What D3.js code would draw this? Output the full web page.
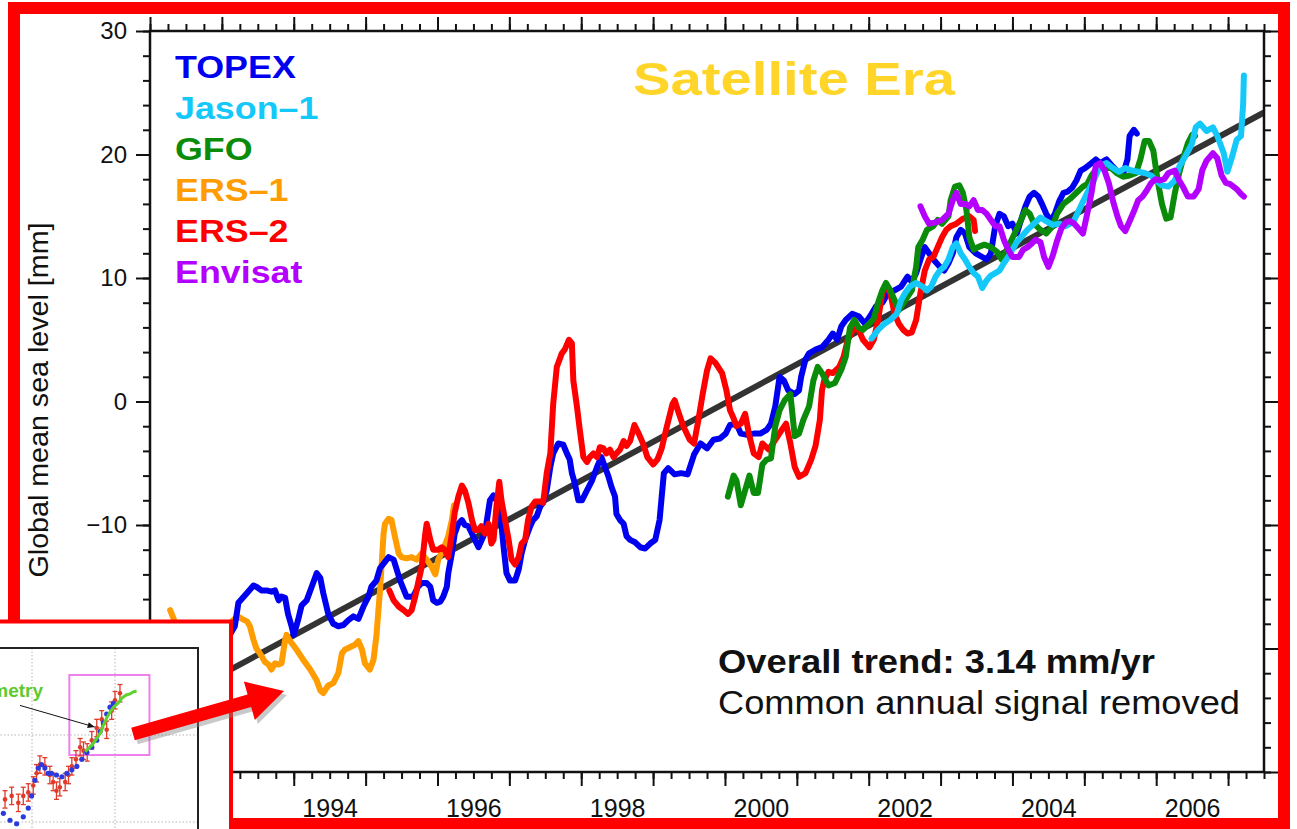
<!DOCTYPE html>
<html>
<head>
<meta charset="utf-8">
<script src="https://cdn.jsdelivr.net/npm/d3@7"></script>
<style>
	body { margin: 0; background: #fff; }
	svg { display: block; font-family: "Liberation Sans", Arial, Helvetica, sans-serif; }
	.tick line { stroke: #111; stroke-width: 2; }
	.tick text { fill: #111; }
</style>
</head>
<body>
<div id="chart-area"></div>
<script>

// ---- data: [decimal year, mm] ----
let topexData = [
	[1992.95,-19.5],[1993.1,-19.0],[1993.18,-18.2],[1993.23,-16.3],[1993.35,-15.5],[1993.44,-14.9],[1993.48,-15.0],
	[1993.55,-15.3],[1993.62,-15.3],[1993.69,-15.4],[1993.74,-15.3],[1993.79,-16.1],[1993.83,-15.8],[1993.88,-15.9],
	[1993.92,-17.2],[1993.97,-18.2],[1994.00,-18.9],[1994.06,-17.7],[1994.11,-16.5],[1994.18,-16.1],[1994.25,-15.0],
	[1994.32,-13.9],[1994.37,-14.3],[1994.41,-15.5],[1994.48,-17.2],[1994.55,-18.0],[1994.62,-18.2],[1994.69,-18.1],
	[1994.76,-17.7],[1994.83,-17.4],[1994.90,-17.6],[1994.97,-16.6],[1995.04,-15.8],[1995.08,-15.0],[1995.15,-14.5],
	[1995.20,-13.5],[1995.32,-12.6],[1995.39,-12.8],[1995.48,-14.5],[1995.57,-15.8],[1995.66,-15.8],[1995.73,-15.0],
	[1995.78,-14.7],[1995.85,-14.7],[1995.90,-15.0],[1995.94,-16.1],[1995.99,-16.3],[1996.04,-16.2],[1996.08,-15.8],
	[1996.13,-15.0],[1996.15,-13.9],[1996.20,-12.3],[1996.24,-10.7],[1996.29,-9.9],[1996.34,-9.6],[1996.38,-10.0],
	[1996.43,-10.1],[1996.48,-10.7],[1996.52,-11.2],[1996.57,-11.8],[1996.64,-10.9],[1996.68,-9.9],[1996.73,-8.0],
	[1996.78,-7.6],[1996.82,-8.0],[1996.87,-8.8],[1996.92,-11.8],[1996.96,-13.9],[1997.01,-14.5],[1997.08,-14.5],
	[1997.13,-13.6],[1997.17,-12.3],[1997.22,-11.2],[1997.29,-10.1],[1997.33,-9.6],[1997.38,-9.3],[1997.43,-8.5],
	[1997.47,-8.2],[1997.52,-7.2],[1997.57,-5.3],[1997.61,-4.2],[1997.68,-3.4],[1997.75,-3.5],[1997.80,-4.2],
	[1997.84,-4.7],[1997.87,-5.8],[1997.91,-6.6],[1997.96,-8.0],[1998.01,-8.0],[1998.08,-7.2],[1998.15,-6.4],
	[1998.22,-5.3],[1998.28,-4.5],[1998.33,-5.3],[1998.38,-6.1],[1998.42,-6.9],[1998.47,-7.7],[1998.49,-9.1],
	[1998.54,-9.6],[1998.59,-9.9],[1998.63,-10.9],[1998.68,-11.2],[1998.75,-11.4],[1998.82,-11.8],[1998.89,-11.9],
	[1998.96,-11.5],[1999.03,-11.2],[1999.09,-9.6],[1999.15,-5.8],[1999.21,-5.4],[1999.30,-5.9],[1999.39,-5.8],
	[1999.48,-5.9],[1999.57,-4.3],[1999.66,-3.4],[1999.75,-3.8],[1999.84,-3.1],[1999.93,-3.0],[2000.01,-2.6],
	[2000.07,-1.9],[2000.16,-1.8],[2000.22,-2.6],[2000.31,-2.7],[2000.40,-2.6],[2000.49,-2.6],[2000.58,-2.3],
	[2000.64,-1.8],[2000.70,-0.4],[2000.76,2.0],[2000.82,1.7],[2000.88,0.9],[2000.97,0.6],[2001.03,0.9],
	[2001.06,2.0],[2001.12,3.4],[2001.17,3.9],[2001.26,4.2],[2001.35,4.4],[2001.44,5.0],[2001.50,5.5],
	[2001.56,5.0],[2001.62,6.1],[2001.68,6.6],[2001.77,7.1],[2001.86,6.9],[2001.95,6.3],[2002.04,7.1],
	[2002.10,7.7],[2002.19,8.0],[2002.27,8.8],[2002.36,9.0],[2002.45,9.3],[2002.54,10.1],[2002.60,9.7],
	[2002.66,10.4],[2002.72,11.5],[2002.78,12.5],[2002.84,12.0],[2002.90,11.5],[2002.99,10.9],[2003.05,10.6],
	[2003.11,11.2],[2003.17,12.0],[2003.22,13.3],[2003.28,13.9],[2003.34,13.6],[2003.40,12.5],[2003.49,12.0],
	[2003.58,11.7],[2003.64,11.5],[2003.70,12.0],[2003.76,14.2],[2003.82,15.2],[2003.88,15.0],[2003.94,14.2],
	[2004.00,14.4],[2004.06,13.6],[2004.12,14.7],[2004.18,15.8],[2004.24,16.6],[2004.30,16.9],[2004.36,16.6],
	[2004.41,16.0],[2004.47,15.2],[2004.53,14.6],[2004.59,15.2],[2004.65,16.2],[2004.71,16.9],[2004.77,17.0],
	[2004.83,17.3],[2004.89,17.9],[2004.95,18.7],[2005.01,18.9],[2005.10,19.3],[2005.16,19.6],[2005.22,19.3],
	[2005.31,19.6],[2005.40,19.0],[2005.48,18.5],[2005.54,18.4],[2005.60,19.6],[2005.63,21.5],[2005.69,22.0],
	[2005.73,21.7]
];

let jason1Data = [
	[2002.04,5.1],[2002.13,5.8],[2002.22,6.3],[2002.30,6.6],[2002.39,7.1],[2002.45,8.2],[2002.51,8.8],
	[2002.57,9.3],[2002.66,9.6],[2002.75,9.3],[2002.81,9.0],[2002.87,9.3],[2002.93,10.1],[2002.99,10.6],
	[2003.05,10.9],[2003.11,11.5],[2003.17,12.5],[2003.22,12.8],[2003.28,12.0],[2003.34,11.5],[2003.40,10.9],
	[2003.46,10.4],[2003.52,10.1],[2003.58,9.2],[2003.64,9.8],[2003.70,10.2],[2003.76,10.4],[2003.82,10.6],
	[2003.88,11.2],[2003.94,11.7],[2004.00,12.3],[2004.06,12.9],[2004.12,13.3],[2004.21,13.9],[2004.30,14.4],
	[2004.39,14.9],[2004.47,14.6],[2004.56,14.3],[2004.65,14.4],[2004.74,14.2],[2004.80,14.4],[2004.86,14.7],
	[2004.95,15.8],[2005.04,16.9],[2005.13,17.9],[2005.22,19.1],[2005.31,19.3],[2005.40,18.9],[2005.48,18.6],
	[2005.57,18.9],[2005.66,18.7],[2005.75,18.6],[2005.84,18.5],[2005.93,18.3],[2006.02,17.8],[2006.08,17.5],
	[2006.17,17.4],[2006.26,17.9],[2006.32,19.0],[2006.41,19.9],[2006.50,20.9],[2006.55,22.2],[2006.61,22.5],
	[2006.70,21.9],[2006.79,22.2],[2006.85,21.5],[2006.94,20.1],[2006.99,18.6],[2007.06,19.9],[2007.12,21.2],
	[2007.18,21.5],[2007.21,24.1],[2007.22,26.4]
];

let gfoData = [
	[2000.04,-7.7],[2000.12,-6.0],[2000.16,-6.4],[2000.22,-8.4],[2000.28,-7.2],[2000.34,-6.0],[2000.40,-7.4],
	[2000.46,-7.4],[2000.52,-5.1],[2000.58,-4.7],[2000.64,-4.6],[2000.70,-2.0],[2000.76,-0.7],[2000.83,0.1],
	[2000.91,0.6],[2000.97,-2.8],[2001.03,-2.6],[2001.09,-1.5],[2001.17,-0.4],[2001.23,1.7],[2001.29,2.8],
	[2001.35,2.3],[2001.44,1.3],[2001.53,1.5],[2001.62,2.6],[2001.68,3.6],[2001.74,6.0],[2001.80,6.6],
	[2001.86,6.0],[2001.92,5.8],[2001.99,6.2],[2002.07,6.7],[2002.13,8.0],[2002.19,9.0],[2002.24,9.6],
	[2002.30,9.0],[2002.36,8.2],[2002.42,7.4],[2002.51,8.2],[2002.60,9.0],[2002.66,10.9],[2002.69,12.5],
	[2002.75,13.1],[2002.81,13.9],[2002.90,14.2],[2002.96,14.7],[2003.02,14.4],[2003.11,15.0],[2003.14,16.3],
	[2003.20,17.4],[2003.26,17.5],[2003.31,16.9],[2003.36,15.5],[2003.40,13.3],[2003.46,12.3],[2003.52,12.5],
	[2003.61,12.7],[2003.70,12.5],[2003.79,12.1],[2003.85,11.5],[2003.94,12.5],[2004.03,13.6],[2004.12,14.7],
	[2004.18,15.5],[2004.24,15.2],[2004.30,14.4],[2004.39,13.9],[2004.47,13.6],[2004.56,14.2],[2004.62,15.2],
	[2004.71,16.0],[2004.80,16.4],[2004.89,16.9],[2004.98,17.4],[2005.04,17.6],[2005.10,18.3],[2005.19,19.0],
	[2005.28,18.9],[2005.37,18.9],[2005.45,18.5],[2005.54,18.2],[2005.63,18.3],[2005.72,18.5],[2005.78,19.6],
	[2005.84,21.1],[2005.90,21.1],[2005.96,20.3],[2006.02,17.9],[2006.08,16.0],[2006.14,14.8],[2006.20,14.9],
	[2006.26,16.9],[2006.32,18.5],[2006.38,19.8],[2006.44,20.9],[2006.50,21.6],[2006.54,21.5]
];

let ers1Data = [
	[1992.28,-16.9],[1992.33,-17.6],[1992.40,-18.9],[1992.6,-20.2],[1992.9,-19.6],[1993.05,-18.6],[1993.12,-17.9],
	[1993.16,-17.7],[1993.22,-17.4],[1993.28,-17.6],[1993.35,-17.8],[1993.39,-18.2],[1993.44,-19.3],[1993.48,-20.0],
	[1993.53,-20.4],[1993.60,-21.1],[1993.65,-21.3],[1993.69,-21.7],[1993.74,-21.2],[1993.79,-21.3],[1993.83,-21.2],
	[1993.88,-19.3],[1993.90,-18.9],[1993.95,-19.4],[1994.04,-20.1],[1994.13,-20.9],[1994.23,-21.7],[1994.32,-22.6],
	[1994.37,-23.4],[1994.41,-23.6],[1994.48,-23.0],[1994.55,-22.8],[1994.62,-22.0],[1994.67,-20.4],[1994.71,-20.1],
	[1994.78,-19.9],[1994.85,-19.7],[1994.90,-19.4],[1994.95,-20.1],[1994.99,-21.2],[1995.06,-21.7],[1995.11,-20.9],
	[1995.15,-19.0],[1995.20,-15.3],[1995.25,-10.7],[1995.27,-9.9],[1995.32,-9.5],[1995.36,-9.6],[1995.41,-11.0],
	[1995.46,-12.3],[1995.50,-12.6],[1995.57,-12.7],[1995.64,-12.6],[1995.71,-12.8],[1995.78,-12.3],[1995.85,-12.8],
	[1995.92,-13.4],[1995.97,-14.0],[1996.01,-12.8],[1996.08,-12.0],[1996.15,-10.9],[1996.20,-9.6],[1996.23,-8.4]
];

let ers2Data = [
	[1995.33,-15.3],[1995.39,-16.1],[1995.46,-16.6],[1995.53,-16.9],[1995.59,-17.2],[1995.64,-16.9],[1995.69,-15.8],
	[1995.73,-14.7],[1995.78,-13.4],[1995.83,-10.7],[1995.85,-9.9],[1995.90,-11.2],[1995.94,-12.0],[1996.01,-12.0],
	[1996.06,-11.8],[1996.10,-12.0],[1996.15,-12.6],[1996.20,-10.7],[1996.24,-9.0],[1996.29,-7.7],[1996.34,-6.8],
	[1996.38,-7.2],[1996.43,-8.2],[1996.48,-9.6],[1996.52,-10.4],[1996.57,-10.4],[1996.61,-10.1],[1996.66,-10.7],
	[1996.71,-9.9],[1996.75,-11.5],[1996.78,-11.2],[1996.82,-8.5],[1996.86,-6.5],[1996.89,-8.0],[1996.94,-9.6],
	[1996.99,-11.2],[1997.03,-12.8],[1997.08,-13.2],[1997.13,-12.6],[1997.17,-11.5],[1997.22,-11.2],[1997.26,-9.6],
	[1997.31,-8.5],[1997.36,-8.1],[1997.43,-8.1],[1997.47,-8.2],[1997.52,-5.8],[1997.57,-4.2],[1997.61,-0.2],
	[1997.66,2.8],[1997.73,3.9],[1997.77,4.2],[1997.83,5.0],[1997.87,4.7],[1997.89,1.7],[1997.94,-0.4],
	[1997.98,-2.3],[1998.03,-4.5],[1998.08,-4.9],[1998.12,-4.5],[1998.17,-4.2],[1998.22,-4.5],[1998.26,-3.7],
	[1998.31,-3.8],[1998.35,-4.2],[1998.40,-3.9],[1998.45,-4.5],[1998.49,-4.2],[1998.54,-3.9],[1998.59,-3.2],
	[1998.63,-3.6],[1998.68,-3.2],[1998.74,-1.9],[1998.80,-2.6],[1998.86,-3.4],[1998.92,-4.5],[1999.00,-5.1],
	[1999.06,-4.7],[1999.12,-3.8],[1999.18,-2.3],[1999.27,-0.2],[1999.30,0.1],[1999.36,-1.0],[1999.42,-2.0],
	[1999.51,-3.1],[1999.57,-3.4],[1999.63,-1.5],[1999.69,0.6],[1999.75,2.5],[1999.80,3.5],[1999.87,3.1],
	[1999.96,2.3],[2000.02,0.9],[2000.07,-0.7],[2000.13,-1.5],[2000.16,-2.0],[2000.22,-1.8],[2000.28,-1.0],
	[2000.34,-2.8],[2000.40,-4.2],[2000.47,-4.5],[2000.52,-3.4],[2000.61,-3.9],[2000.70,-3.1],[2000.79,-2.3],
	[2000.85,-1.8],[2000.91,-3.4],[2000.97,-5.3],[2001.03,-6.1],[2001.12,-5.8],[2001.20,-4.7],[2001.26,-3.6],
	[2001.32,-1.5],[2001.35,0.9],[2001.38,1.7],[2001.44,2.4],[2001.50,2.3],[2001.59,2.8],[2001.65,3.6],
	[2001.71,5.0],[2001.80,6.0],[2001.86,5.8],[2001.92,5.0],[2002.01,4.4],[2002.07,5.0],[2002.13,6.6],
	[2002.19,8.8],[2002.24,9.3],[2002.30,8.8],[2002.36,7.1],[2002.42,6.3],[2002.48,5.8],[2002.54,5.5],
	[2002.60,5.6],[2002.66,6.6],[2002.72,8.8],[2002.78,10.6],[2002.84,11.5],[2002.90,11.7],[2002.96,12.5],
	[2003.02,13.3],[2003.08,13.9],[2003.14,14.2],[2003.22,14.4],[2003.31,14.8],[2003.40,15.0],[2003.46,14.7],
	[2003.48,13.8]
];

let envisatData = [
	[2002.72,15.8],[2002.78,15.0],[2002.84,14.4],[2002.93,14.5],[2003.02,14.7],[2003.11,15.2],[2003.17,16.3],
	[2003.22,16.9],[2003.28,16.0],[2003.34,16.0],[2003.40,15.8],[2003.46,16.3],[2003.52,15.5],[2003.58,15.5],
	[2003.64,15.2],[2003.70,14.7],[2003.76,14.2],[2003.82,14.2],[2003.88,13.1],[2003.94,12.3],[2004.00,11.7],
	[2004.09,11.7],[2004.15,12.3],[2004.21,12.5],[2004.27,12.8],[2004.32,13.1],[2004.39,12.9],[2004.44,11.7],
	[2004.50,10.9],[2004.56,11.8],[2004.62,13.0],[2004.68,14.0],[2004.74,14.5],[2004.80,14.6],[2004.86,14.4],
	[2004.92,14.0],[2004.98,13.6],[2005.04,15.2],[2005.10,16.9],[2005.16,19.1],[2005.22,19.3],[2005.28,18.7],
	[2005.34,17.7],[2005.40,16.2],[2005.46,15.0],[2005.51,14.2],[2005.57,13.8],[2005.63,14.6],[2005.69,15.4],
	[2005.75,16.3],[2005.81,16.6],[2005.87,17.1],[2005.93,17.7],[2005.99,18.0],[2006.05,17.9],[2006.11,18.0],
	[2006.17,18.5],[2006.26,18.7],[2006.32,17.9],[2006.38,17.3],[2006.44,16.6],[2006.52,16.6],[2006.59,17.2],
	[2006.64,18.7],[2006.70,19.5],[2006.79,20.1],[2006.85,19.7],[2006.91,18.3],[2006.97,17.7],[2007.03,17.6],
	[2007.12,17.2],[2007.18,16.8],[2007.22,16.6]
];

// overall trend line (3.14 mm/yr), two end points
let trendData = [[1992.9, -22.4], [2007.5, 23.4]];

let seriesNames = ["TOPEX", "Jason\u20131", "GFO", "ERS\u20131", "ERS\u20132", "Envisat"];
let seriesColors = ["#0000f0", "#15c8fa", "#0a8c0a", "#ff9c00", "#ff0000", "#b400ff"];
let seriesData = [topexData, jason1Data, gfoData, ers1Data, ers2Data, envisatData];
let drawOrder = [3, 0, 4, 2, 1, 5];

// axis ticks
let labelYears = [1992, 1994, 1996, 1998, 2000, 2002, 2004, 2006];
let majorYears = [1992, 1993, 1994, 1995, 1996, 1997, 1998, 1999, 2000, 2001, 2002, 2003, 2004, 2005, 2006, 2007];
let yMajor = [-30, -20, -10, 0, 10, 20, 30];

// inset (tide gauge + altimetry thumbnail): [year, mm]
let insetTideGauge = [
	[1973.5,-37],[1975.1,-35],[1976.7,-39],[1977.9,-35],[1979.1,-33],[1980.3,-29],[1981.1,-22],[1981.9,-17],
	[1983.1,-18],[1984.3,-23],[1985.1,-27],[1985.9,-32],[1986.7,-30],[1988.0,-27],[1988.8,-23],[1989.6,-18],
	[1990.6,-14],[1991.6,-7],[1992.4,-9],[1993.3,-10],[1994.4,-3],[1995.6,4],[1996.8,9],[1998.0,3],
	[1999.2,14],[2000.0,20],[2001.2,24]
];
let insetReconstruction = [
	[1973.1,-45],[1974.7,-49],[1976.3,-51],[1977.9,-47],[1979.1,-42],[1979.9,-35],[1980.7,-26],[1981.5,-19],
	[1982.3,-17],[1983.1,-19],[1983.9,-22],[1984.7,-22],[1985.9,-23],[1987.2,-24],[1988.4,-22],[1989.6,-20],
	[1990.8,-18],[1992.0,-14],[1993.2,-10],[1994.4,-7],[1995.6,-3],[1996.4,2],[1997.2,7],[1998.0,12],
	[1998.8,16],[1999.6,18]
];
let insetAltimetry = [
	[1992.8,-9.6],[1994.5,-5.7],[1995.7,-1.7],[1996.6,1.7],[1997.3,6.3],[1998.1,10.3],[1998.8,13.2],[1999.5,15.5],
	[2000.2,17.2],[2001.0,19.0],[2001.7,21.3],[2002.7,23.0],[2003.6,23.6],[2004.3,24.7],[2005.2,25.3]
];

// ---- layout ----
let margin = {top: 31, right: 33, bottom: 57, left: 150};
let width = 1114;
let height = 741;

let root = d3.select("#chart-area").append("svg")
	.attr("width", 1297)
	.attr("height", 829);

root.append("rect").attr("width", 1297).attr("height", 829).attr("fill", "#fff");

let svg = root.append("g")
	.attr("transform", "translate(" + margin.left + "," + margin.top + ")");

let x = d3.scaleLinear().domain([1992, 2007.5]).range([0, width]);
let y = d3.scaleLinear().domain([-30, 30]).range([height, 0]);

let minorX = d3.range(1992, 2007.51, 0.25);
let minorY = d3.range(-30, 30.1, 2);

function styleAxis(g) {
	g.select(".domain").remove();
	g.attr("font-family", null).attr("font-size", null);
}

// bottom
svg.append("g").attr("transform", "translate(0," + height + ")")
	.call(d3.axisBottom(x).tickValues(minorX).tickSize(7).tickFormat("")).call(styleAxis);
svg.append("g").attr("transform", "translate(0," + height + ")")
	.call(d3.axisBottom(x).tickValues(majorYears).tickSize(14).tickFormat("")).call(styleAxis);
svg.append("g").attr("transform", "translate(0," + height + ")")
	.call(d3.axisBottom(x).tickValues(labelYears.map(d => d + 0.5)).tickSize(0).tickPadding(27)
		.tickFormat(d => String(d - 0.5)))
	.call(styleAxis)
	.selectAll("text").attr("font-size", 25);

// top
svg.append("g")
	.call(d3.axisTop(x).tickValues(minorX).tickSize(7).tickFormat("")).call(styleAxis);
svg.append("g")
	.call(d3.axisTop(x).tickValues(majorYears).tickSize(14).tickFormat("")).call(styleAxis);

// left
svg.append("g")
	.call(d3.axisLeft(y).tickValues(minorY).tickSize(7).tickFormat("")).call(styleAxis);
svg.append("g")
	.call(d3.axisLeft(y).tickValues(yMajor).tickSize(14).tickPadding(9).tickFormat(d3.format("d")))
	.call(styleAxis)
	.selectAll("text").attr("font-size", 24);

// right
svg.append("g").attr("transform", "translate(" + width + ",0)")
	.call(d3.axisRight(y).tickValues(minorY).tickSize(7).tickFormat("")).call(styleAxis);
svg.append("g").attr("transform", "translate(" + width + ",0)")
	.call(d3.axisRight(y).tickValues(yMajor).tickSize(14).tickFormat("")).call(styleAxis);

// y title
root.append("text")
	.attr("transform", "translate(48,400) rotate(-90)")
	.attr("text-anchor", "middle")
	.attr("font-size", 28)
	.attr("fill", "#111")
	.attr("textLength", 355)
	.attr("lengthAdjust", "spacingAndGlyphs")
	.text("Global mean sea level [mm]");

// lines
svg.append("clipPath").attr("id", "plot-clip")
	.append("rect").attr("width", width).attr("height", height);

let plot = svg.append("g").attr("clip-path", "url(#plot-clip)");

const line = d3.line()
	.x(d => x(d[0]))
	.y(d => y(d[1]));

plot.append("path").datum(trendData)
	.attr("d", line)
	.attr("fill", "none")
	.attr("stroke", "#333")
	.attr("stroke-width", 6);

drawOrder.forEach(i => {
	plot.append("path").datum(seriesData[i])
		.attr("d", line)
		.attr("fill", "none")
		.attr("stroke", seriesColors[i])
		.attr("stroke-width", 6)
		.attr("stroke-linejoin", "round")
		.attr("stroke-linecap", "round");
});

// frame
svg.append("rect")
	.attr("width", width).attr("height", height)
	.attr("fill", "none").attr("stroke", "#111").attr("stroke-width", 2.5);

// legend
seriesNames.forEach((name, i) => {
	svg.append("text")
		.attr("transform", "translate(25," + (47 + i * 41) + ") scale(1.12,1)")
		.attr("font-size", 32)
		.attr("font-weight", "bold")
		.attr("fill", seriesColors[i])
		.text(name);
});

svg.append("text")
	.attr("x", 483).attr("y", 64)
	.attr("font-size", 47)
	.attr("font-weight", "bold")
	.attr("fill", "#ffd52a")
	.attr("textLength", 322)
	.attr("lengthAdjust", "spacingAndGlyphs")
	.text("Satellite Era");

svg.append("text")
	.attr("x", 568).attr("y", 642)
	.attr("font-size", 33)
	.attr("font-weight", "bold")
	.attr("fill", "#111")
	.attr("textLength", 437)
	.attr("lengthAdjust", "spacingAndGlyphs")
	.text("Overall trend: 3.14 mm/yr");

svg.append("text")
	.attr("x", 568).attr("y", 683)
	.attr("font-size", 33)
	.attr("fill", "#111")
	.attr("textLength", 522)
	.attr("lengthAdjust", "spacingAndGlyphs")
	.text("Common annual signal removed");

// outer red frame
root.append("rect")
	.attr("x", 14).attr("y", 8).attr("width", 1270).attr("height", 816)
	.attr("fill", "none").attr("stroke", "#ff0000").attr("stroke-width", 12);

// ---- inset ----
let inset = root.append("g");
inset.append("rect")
	.attr("x", -6).attr("y", 621.5).attr("width", 237).attr("height", 240)
	.attr("fill", "#fff").attr("stroke", "#ff0000").attr("stroke-width", 4);

inset.append("clipPath").attr("id", "inset-clip")
	.append("rect").attr("x", 0).attr("y", 624).attr("width", 229).attr("height", 210);

let ig = inset.append("g").attr("clip-path", "url(#inset-clip)");

let ix = d3.scaleLinear().domain([1980, 2000]).range([32, 115]);
let iy = d3.scaleLinear().domain([-50, 0]).range([822, 735]);

[1960, 1980, 2000].forEach(v => {
	ig.append("line").attr("x1", ix(v)).attr("x2", ix(v)).attr("y1", iy(50)).attr("y2", 840)
		.attr("stroke", "#b5b5b5").attr("stroke-width", 1).attr("stroke-dasharray", "1.5,2");
});
[0, -50].forEach(v => {
	ig.append("line").attr("x1", -10).attr("x2", ix(2020)).attr("y1", iy(v)).attr("y2", iy(v))
		.attr("stroke", "#b5b5b5").attr("stroke-width", 1).attr("stroke-dasharray", "1.5,2");
});

ig.append("rect")
	.attr("x", -20).attr("y", iy(50))
	.attr("width", ix(2020) + 20).attr("height", 300)
	.attr("fill", "none").attr("stroke", "#222").attr("stroke-width", 2);

ig.append("rect")
	.attr("x", ix(1989)).attr("y", iy(34.5))
	.attr("width", ix(2008.3) - ix(1989)).attr("height", iy(-11.5) - iy(34.5))
	.attr("fill", "none").attr("stroke", "#ee80ee").attr("stroke-width", 2);

// tide gauge points with error bars
let tg = ig.selectAll(".tg").data(insetTideGauge).enter().append("g").attr("class", "tg");
tg.append("line")
	.attr("x1", d => ix(d[0])).attr("x2", d => ix(d[0]))
	.attr("y1", d => iy(d[1] - 5)).attr("y2", d => iy(d[1] + 5))
	.attr("stroke", "#e03a2a").attr("stroke-width", 1.3);
[-5, 5].forEach(off => {
	tg.append("line")
		.attr("x1", d => ix(d[0]) - 2.5).attr("x2", d => ix(d[0]) + 2.5)
		.attr("y1", d => iy(d[1] + off)).attr("y2", d => iy(d[1] + off))
		.attr("stroke", "#e03a2a").attr("stroke-width", 1.3);
});
tg.append("circle")
	.attr("cx", d => ix(d[0])).attr("cy", d => iy(d[1])).attr("r", 2.3)
	.attr("fill", "#e03a2a");

ig.selectAll(".rc").data(insetReconstruction).enter().append("circle")
	.attr("class", "rc")
	.attr("cx", d => ix(d[0])).attr("cy", d => iy(d[1])).attr("r", 2.6)
	.attr("fill", "#2a3ae0");

ig.append("path").datum(insetAltimetry)
	.attr("d", d3.line().x(d => ix(d[0])).y(d => iy(d[1])))
	.attr("fill", "none").attr("stroke", "#5fd12e").attr("stroke-width", 3);

ig.append("text")
	.attr("x", 43).attr("y", 697)
	.attr("text-anchor", "end")
	.attr("font-size", 19).attr("font-weight", "bold")
	.attr("fill", "#5fc92e")
	.text("Altimetry");

// small pointer arrow
let ptrFrom = [ix(1977.1), iy(17)];
let ptrTo = [ix(1995.1), iy(4.6)];
ig.append("line")
	.attr("x1", ptrFrom[0]).attr("y1", ptrFrom[1]).attr("x2", ptrTo[0]).attr("y2", ptrTo[1])
	.attr("stroke", "#111").attr("stroke-width", 1);
(function () {
	let ang = Math.atan2(ptrTo[1] - ptrFrom[1], ptrTo[0] - ptrFrom[0]);
	let L = 7, W = 3;
	let bx = ptrTo[0] - L * Math.cos(ang), by = ptrTo[1] - L * Math.sin(ang);
	ig.append("path")
		.attr("d", "M" + ptrTo + "L" + [bx - W * Math.sin(ang), by + W * Math.cos(ang)] +
			"L" + [bx + W * Math.sin(ang), by - W * Math.cos(ang)] + "Z")
		.attr("fill", "#111");
})();

// big red arrow from the inset to the chart
function arrowPath(p0, p1, shaftHalf, headHalf, headLen) {
	let dx = p1[0] - p0[0], dy = p1[1] - p0[1];
	let len = Math.hypot(dx, dy);
	let ux = dx / len, uy = dy / len, nx = -uy, ny = ux;
	let bx = p1[0] - ux * headLen, by = p1[1] - uy * headLen;
	let pts = [
		[p0[0] + nx * shaftHalf, p0[1] + ny * shaftHalf],
		[bx + nx * shaftHalf, by + ny * shaftHalf],
		[bx + nx * headHalf, by + ny * headHalf],
		p1,
		[bx - nx * headHalf, by - ny * headHalf],
		[bx - nx * shaftHalf, by - ny * shaftHalf],
		[p0[0] - nx * shaftHalf, p0[1] - ny * shaftHalf]
	];
	return "M" + pts.map(p => p.join(",")).join("L") + "Z";
}
let arrowD = arrowPath([133, 734], [284, 691], 6.5, 20, 36);
root.append("path").attr("d", arrowD)
	.attr("transform", "translate(3,4)")
	.attr("fill", "#888").attr("opacity", 0.45);
root.append("path").attr("d", arrowD).attr("fill", "#ff0000");

</script>
</body>
</html>
